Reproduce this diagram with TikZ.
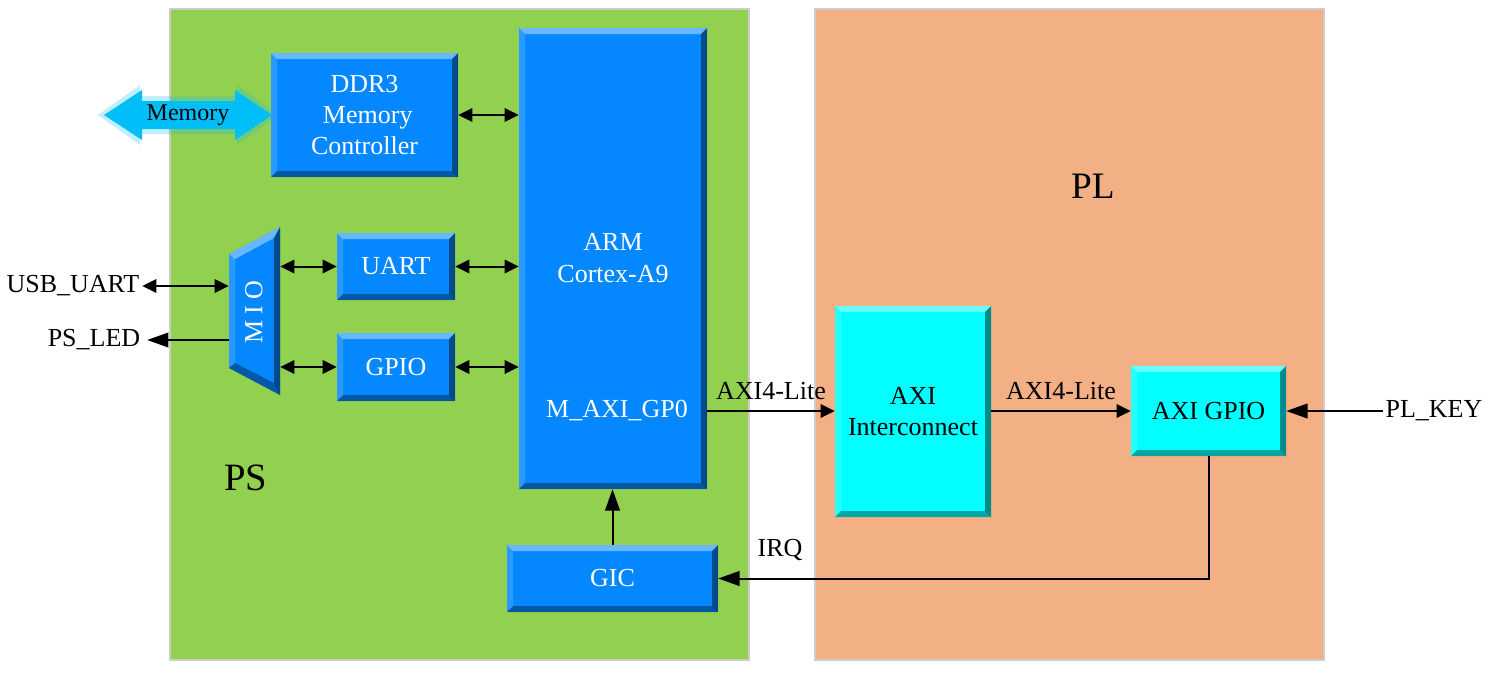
\documentclass[tikz,border=0pt]{standalone}
\usepackage{fontspec}
\setmainfont{Liberation Serif}
\usetikzlibrary{arrows.meta,fit}
\definecolor{psgreen}{HTML}{92D050}
\definecolor{plorange}{HTML}{F3B084}
\definecolor{armblue}{HTML}{0588FF}
\definecolor{ipcyan}{HTML}{00FFFF}
\definecolor{memblue}{HTML}{00BFF8}
\definecolor{panelgray}{HTML}{CCCCCC}
\newcommand\dfont{\fontsize{19.5}{23.5}\selectfont}
\newcommand\bevelbands[1]{%
 \fill[white,opacity=.40] (path picture bounding box.north west) -- (path picture bounding box.north east) -- ([shift={(-#1,-#1)}]path picture bounding box.north east) -- ([shift={(#1,-#1)}]path picture bounding box.north west) -- cycle;
 \fill[white,opacity=.15] (path picture bounding box.north west) -- ([shift={(#1,-#1)}]path picture bounding box.north west) -- ([shift={(#1,#1)}]path picture bounding box.south west) -- (path picture bounding box.south west) -- cycle;
 \fill[black,opacity=.45] (path picture bounding box.north east) -- (path picture bounding box.south east) -- ([shift={(-#1,#1)}]path picture bounding box.south east) -- ([shift={(-#1,-#1)}]path picture bounding box.north east) -- cycle;
 \fill[black,opacity=.35] (path picture bounding box.south west) -- (path picture bounding box.south east) -- ([shift={(-#1,#1)}]path picture bounding box.south east) -- ([shift={(#1,#1)}]path picture bounding box.south west) -- cycle;
}
\tikzset{
 panel/.style={draw=panelgray, line width=1pt},
 box/.style={inner sep=0pt, path picture={\bevelbands{4.5pt}}},
 bluebox/.style={box, fill=armblue},
 cyanbox/.style={box, fill=ipcyan},
 wtxt/.style={text=white, font=\dfont, align=center, inner sep=0pt},
 btxt/.style={text=black, font=\dfont, align=center, inner sep=0pt},
 lbl/.style={inner sep=2pt, font=\dfont, text=black},
 dbl/.style={line width=1.5pt, {Triangle[length=10.5pt,width=10pt]}-{Triangle[length=10.5pt,width=10pt]}},
 sgl/.style={line width=1.5pt, -{Triangle[length=10.5pt,width=10pt]}},
 bigarr/.style={line width=1.5pt, -{Triangle[length=16pt,width=11pt]}},
}
\begin{document}
\begin{tikzpicture}[x=0.75pt,y=-0.75pt]
\useasboundingbox (0,0) rectangle (1488,672);
% panels
\fill[psgreen] (170,9) rectangle (749,660);
\draw[panel] (170,9) rectangle (749,660);
\fill[plorange] (815,9) rectangle (1324,660);
\draw[panel] (815,9) rectangle (1324,660);
\node[font=\fontsize{29}{34}\selectfont] (ps) at (246,478) {PS};
\node[font=\fontsize{28}{34}\selectfont] (pl) at (1093,186) {PL};
% memory arrow
\fill[memblue,opacity=.25] (98,115) -- (140,85) -- (140,96) -- (237,96) -- (237,85) -- (278,115) -- (237,145) -- (237,134) -- (140,134) -- (140,145) -- cycle;
\fill[memblue] (104,115) -- (142,90) -- (142,101) -- (235,101) -- (235,90) -- (272,115) -- (235,140) -- (235,129) -- (142,129) -- (142,140) -- cycle;
\node[lbl, font=\fontsize{18}{22}\selectfont] (mem) at (188,115) {Memory};
% blocks
\node[bluebox, fit={(271,53) (458,177)}] (ddr) {};
\node[wtxt] (ddrtxt) at (ddr.center) {DDR3\\\ Memory\\Controller};
\node[bluebox, fit={(519,28) (707,489)}] (arm) {};
\node[wtxt] (armtxt) at (613,258) {ARM\\Cortex-A9};
\node[wtxt, inner sep=2pt] (gp0) at (617,411) {M\_AXI\_GP0};
\node[bluebox, fit={(337,233) (455,300)}] (uart) {};
\node[wtxt] (uarttxt) at (uart.center) {UART};
\node[bluebox, fit={(337,333) (455,401)}] (gpio) {};
\node[wtxt] (gpiotxt) at (gpio.center) {GPIO};
\node[bluebox, fit={(507,545) (718,612)}] (gic) {};
\node[wtxt] (gictxt) at (gic.center) {GIC};
\node[cyanbox, fit={(835,306) (991,517)}] (axiic) {};
\node[btxt] (axiictxt) at (axiic.center) {AXI\\Interconnect};
\node[cyanbox, fit={(1131,366) (1286,456)}] (axigpio) {};
\node[btxt] (axigpiotxt) at (axigpio.center) {AXI GPIO};
% MIO trapezoid
\node[inner sep=0pt, fit={(229,227) (280,395)}] (mio) {};
\fill[armblue] (229,254) -- (280,227) -- (280,395) -- (229,368) -- cycle;
\fill[white,opacity=.40] (229,254) -- (280,227) -- (274,238) -- (235,259) -- cycle;
\fill[white,opacity=.15] (229,254) -- (235,259) -- (235,363) -- (229,368) -- cycle;
\fill[black,opacity=.45] (280,227) -- (280,395) -- (274,383) -- (274,238) -- cycle;
\fill[black,opacity=.35] (229,368) -- (235,363) -- (274,383) -- (280,395) -- cycle;
\node[rotate=90, text=white, font=\dfont] (miotxt) at (254,312) {M I O};
% outside labels
\node[lbl] (usb) at (73,286) {USB\_UART};
\node[lbl, inner sep=5pt] (psled) at (94,340) {PS\_LED};
\node[lbl] (plkey) at (1434,411) {PL\_KEY};
% connectors
\draw[dbl] (ddr.east) -- (ddr.east -| arm.west);
\draw[dbl] (uart.east) -- (uart.east -| arm.west);
\draw[dbl] (gpio.east) -- (gpio.east -| arm.west);
\draw[dbl] (uart.west -| mio.east) -- (uart.west);
\draw[dbl] (gpio.west -| mio.east) -- (gpio.west);
\draw[dbl] (usb.east) -- (usb.east -| mio.west);
\draw[bigarr] (psled.east -| mio.west) -- (psled.east);
\draw[sgl] (gp0.east -| arm.east) -- node[lbl, above=6pt] (lab1) {AXI4-Lite} (gp0.east -| axiic.west);
\draw[sgl] (axigpio.west -| axiic.east) -- node[lbl, above=6pt] (lab2) {AXI4-Lite} (axigpio.west);
\draw[bigarr] (plkey.west) -- (axigpio.east);
\draw[bigarr] (gic.north) -- (gic.north |- arm.south);
\draw[bigarr] (axigpio.south) -- (axigpio.south |- gic.east) -- (gic.east);
\node[lbl] (irq) at (780,550) {IRQ};
\end{tikzpicture}
\end{document}
